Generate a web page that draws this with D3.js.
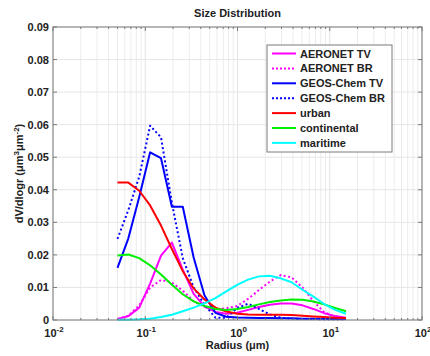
<!DOCTYPE html>
<html><head><meta charset="utf-8">
<script src="https://cdn.jsdelivr.net/npm/d3@7"></script>
<style>
body{margin:0;background:#fff;}
text{font-family:"Liberation Sans",Arial,sans-serif;font-weight:bold;fill:#222;}
</style></head>
<body><svg id="c" width="430" height="356"></svg>
<script>
const radius = [0.05, 0.065604, 0.086077, 0.112939, 0.148184, 0.194429, 0.255105, 0.334716, 0.439173, 0.576227, 0.756052, 0.991996, 1.301571, 1.707757, 2.240702, 2.939966, 3.857452, 5.06126, 6.640745, 8.713145, 11.432287, 15.0];
const aeronetTV = [0.0003, 0.0012, 0.0038, 0.0112, 0.0198, 0.0238, 0.0155, 0.0080, 0.0042, 0.0025, 0.0019, 0.0022, 0.0031, 0.0040, 0.0047, 0.0051, 0.0051, 0.0045, 0.0034, 0.0021, 0.0012, 0.0007];
const aeronetBR = [0.0003, 0.0013, 0.0045, 0.0100, 0.0123, 0.0115, 0.0090, 0.0058, 0.0040, 0.0033, 0.0036, 0.0043, 0.0065, 0.0092, 0.0118, 0.0138, 0.0131, 0.0100, 0.0058, 0.0024, 0.0010, 0.0005];
const geosTV = [0.0160, 0.0251, 0.0378, 0.0515, 0.0497, 0.0348, 0.0348, 0.0192, 0.0075, 0.0022, 0.0010, 0.0008, 0.0007, 0.0006, 0.0006, 0.0005, 0.0005, 0.0004, 0.0004, 0.0003, 0.0003, 0.0003];
const geosBR = [0.0249, 0.0338, 0.0440, 0.0597, 0.0561, 0.0360, 0.0190, 0.0100, 0.0047, 0.0007, 0.0007, 0.0037, 0.0050, 0.0034, 0.0017, 0.0007, 0.0004, 0.0003, 0.0003, 0.0002, 0.0002, 0.0002];
const urban = [0.0422, 0.0422, 0.0397, 0.0352, 0.0290, 0.0218, 0.0150, 0.0097, 0.0063, 0.0038, 0.0026, 0.0019, 0.0017, 0.0016, 0.0016, 0.0016, 0.0015, 0.0013, 0.0011, 0.0009, 0.0007, 0.0006];
const continental = [0.0198, 0.0201, 0.0190, 0.0168, 0.0140, 0.0108, 0.0079, 0.0057, 0.0043, 0.0034, 0.0031, 0.0034, 0.0040, 0.0048, 0.0055, 0.0060, 0.0063, 0.0062, 0.0057, 0.0048, 0.0037, 0.0027];
const maritime = [0.0001, 0.0001, 0.0002, 0.0004, 0.0009, 0.0016, 0.0027, 0.0038, 0.0051, 0.0067, 0.0088, 0.0108, 0.0124, 0.0134, 0.0136, 0.0128, 0.0116, 0.0093, 0.0072, 0.0049, 0.0031, 0.0019];

const seriesNames = ["AERONET TV", "AERONET BR", "GEOS-Chem TV", "GEOS-Chem BR", "urban", "continental", "maritime"];
const seriesValues = [aeronetTV, aeronetBR, geosTV, geosBR, urban, continental, maritime];
const seriesColors = ["#ff00ff", "#ff00ff", "#0000ff", "#0000ff", "#ff0000", "#00ee00", "#00ffff"];
const seriesDotted = [false, true, false, true, false, false, false];
const xTickExp = [-2, -1, 0, 1, 2];
const yTicks = [0, 0.01, 0.02, 0.03, 0.04, 0.05, 0.06, 0.07, 0.08, 0.09];

const L = 53, R = 422, T = 27, B = 320;
const svg = d3.select("#c");
const x = d3.scaleLog().domain([0.01, 100]).range([L, R]);
const y = d3.scaleLinear().domain([0, 0.09]).range([B, T]);

// minor grid positions
const minor = [];
for (let e = -2; e < 2; e++) for (let k = 2; k <= 9; k++) minor.push(k * Math.pow(10, e));
const major = xTickExp.map(e => Math.pow(10, e));

const g = svg.append("g");
g.selectAll(".mg").data(minor).join("line")
  .attr("x1", d => x(d)).attr("x2", d => x(d)).attr("y1", T).attr("y2", B)
  .attr("stroke", "#ececec").attr("stroke-width", 1);
g.selectAll(".Mg").data(major).join("line")
  .attr("x1", d => x(d)).attr("x2", d => x(d)).attr("y1", T).attr("y2", B)
  .attr("stroke", "#e2e2e2").attr("stroke-width", 1);
g.selectAll(".hg").data(yTicks).join("line")
  .attr("x1", L).attr("x2", R).attr("y1", d => y(d)).attr("y2", d => y(d))
  .attr("stroke", "#e6e6e6").attr("stroke-width", 1);

// series
const line = d3.line().x((d, i) => x(radius[i])).y(d => y(d));
seriesValues.forEach((vals, i) => {
  svg.append("path").datum(vals).attr("d", line)
    .attr("fill", "none").attr("stroke", seriesColors[i]).attr("stroke-width", 2)
    .attr("stroke-linejoin", "round")
    .attr("stroke-dasharray", seriesDotted[i] ? "2,2.5" : null);
});

// frame and ticks
const frame = "#7a7a7a";
svg.append("rect").attr("x", L).attr("y", T).attr("width", R - L).attr("height", B - T)
  .attr("fill", "none").attr("stroke", frame).attr("stroke-width", 1);
const tk = svg.append("g").attr("stroke", frame).attr("stroke-width", 1);
major.forEach(d => {
  tk.append("line").attr("x1", x(d)).attr("x2", x(d)).attr("y1", B).attr("y2", B - 4);
  tk.append("line").attr("x1", x(d)).attr("x2", x(d)).attr("y1", T).attr("y2", T + 4);
});
minor.forEach(d => {
  tk.append("line").attr("x1", x(d)).attr("x2", x(d)).attr("y1", B).attr("y2", B - 2);
  tk.append("line").attr("x1", x(d)).attr("x2", x(d)).attr("y1", T).attr("y2", T + 2);
});
yTicks.forEach(d => {
  tk.append("line").attr("x1", L).attr("x2", L + 4).attr("y1", y(d)).attr("y2", y(d));
  tk.append("line").attr("x1", R).attr("x2", R - 4).attr("y1", y(d)).attr("y2", y(d));
});

// y tick labels
svg.selectAll(".yl").data(yTicks).join("text")
  .attr("x", L - 4).attr("y", d => y(d) + 4).attr("text-anchor", "end")
  .attr("font-size", 11).text(d => d === 0 ? "0" : d3.format(".2f")(d));

// x tick labels
xTickExp.forEach(e => {
  const t = svg.append("text").attr("x", x(Math.pow(10, e)) + 1).attr("y", 337)
    .attr("text-anchor", "middle").attr("font-size", 11);
  t.append("tspan").text("10");
  t.append("tspan").attr("dy", -5).attr("font-size", 8).text(String(e).replace("-", "-"));
});

// title & labels
svg.append("text").attr("x", (L + R) / 2).attr("y", 17).attr("text-anchor", "middle")
  .attr("font-size", 11).text("Size Distribution");
svg.append("text").attr("x", (L + R) / 2).attr("y", 349).attr("text-anchor", "middle")
  .attr("font-size", 11).text("Radius (\u03bcm)");
const yl = svg.append("text").attr("transform", `translate(23,${(T + B) / 2}) rotate(-90)`)
  .attr("text-anchor", "middle").attr("font-size", 11);
yl.append("tspan").text("dV/dlogr (\u03bcm");
yl.append("tspan").attr("dy", -4).attr("font-size", 8).text("3");
yl.append("tspan").attr("dy", 4).text("\u03bcm");
yl.append("tspan").attr("dy", -4).attr("font-size", 8).text("-2");
yl.append("tspan").attr("dy", 4).text(")");

// legend
const lg = svg.append("g");
lg.append("rect").attr("x", 267).attr("y", 45).attr("width", 125).attr("height", 107)
  .attr("fill", "#fff").attr("stroke", frame).attr("stroke-width", 1);
seriesNames.forEach((n, i) => {
  const yy = 53.5 + i * 14.9;
  lg.append("line").attr("x1", 272).attr("x2", 296).attr("y1", yy).attr("y2", yy)
    .attr("stroke", seriesColors[i]).attr("stroke-width", 2)
    .attr("stroke-dasharray", seriesDotted[i] ? "2,2" : null);
  lg.append("text").attr("x", 300).attr("y", yy + 4).attr("font-size", 11).text(n);
});
</script></body></html>
